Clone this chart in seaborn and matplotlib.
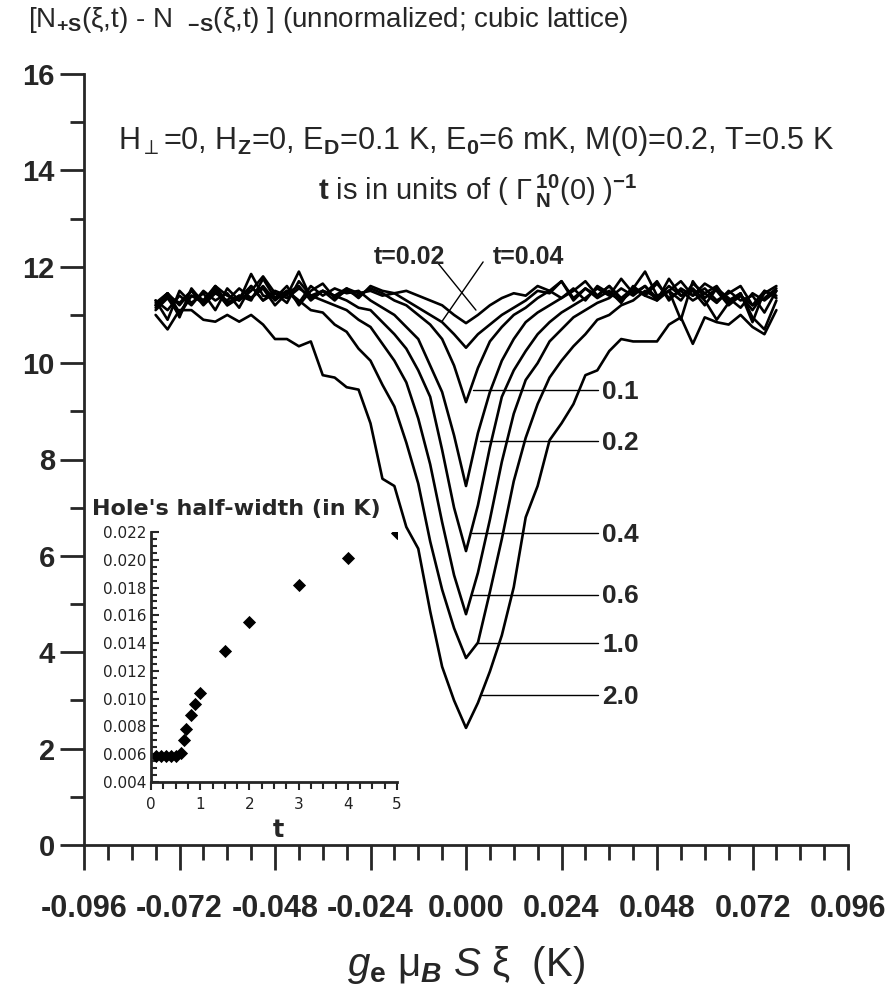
import matplotlib
matplotlib.use("Agg")
import matplotlib.pyplot as plt
from matplotlib.ticker import MultipleLocator, FixedLocator, FormatStrFormatter
import numpy as np
import pandas as pd
import seaborn as sns

# ---------------- data ----------------
xi = [-0.078, -0.075, -0.072, -0.069, -0.066, -0.063, -0.060, -0.057, -0.054, -0.051,
      -0.048, -0.045, -0.042, -0.039, -0.036, -0.033, -0.030, -0.027, -0.024, -0.021,
      -0.018, -0.015, -0.012, -0.009, -0.006, -0.003, 0.000, 0.003, 0.006, 0.009,
      0.012, 0.015, 0.018, 0.021, 0.024, 0.027, 0.030, 0.033, 0.036, 0.039,
      0.042, 0.045, 0.048, 0.051, 0.054, 0.057, 0.060, 0.063, 0.066, 0.069,
      0.072, 0.075, 0.078]

curve_t002 = [11.25, 11.45, 11.2, 11.5, 11.3, 11.6, 11.25, 11.4, 11.35, 11.55, 11.2, 11.45,
              11.6, 11.3, 11.5, 11.4, 11.55, 11.45, 11.5, 11.4, 11.45, 11.5, 11.4,
              11.3, 11.2, 11.0, 10.83, 11.0, 11.2, 11.35,
              11.45, 11.4, 11.6, 11.5, 11.35, 11.55, 11.3, 11.6, 11.45, 11.3, 11.55, 11.4,
              11.65, 11.35, 11.5, 11.3, 11.45, 11.6, 11.25, 11.4, 11.2, 11.5, 11.35]
curve_t004 = [11.1, 11.35, 11.0, 11.4, 11.25, 11.5, 11.2, 11.35, 11.6, 11.3, 11.45, 11.25,
              11.7, 11.4, 11.5, 11.3, 11.55, 11.35, 11.6, 11.5, 11.45,
              11.3, 11.15, 11.0, 10.85, 10.6, 10.32, 10.6, 10.8, 11.0, 11.15, 11.3,
              11.5, 11.45, 11.7, 11.3, 11.55, 11.35, 11.5, 11.25, 11.6, 11.4, 11.3, 11.75,
              11.4, 11.5, 11.2, 11.55, 11.35, 11.15, 11.45, 11.3, 11.5]
curve_t01 = [11.3, 10.9, 11.5, 11.25, 11.45, 11.1, 11.55, 11.3, 11.85, 11.4, 11.35, 11.6,
             11.2, 11.5, 11.65, 11.35, 11.5, 11.4, 11.55, 11.45,
             11.3, 11.2, 11.0, 10.8, 10.5, 9.95, 9.19, 9.9, 10.45, 10.75, 11.0, 11.15, 11.35,
             11.5, 11.7, 11.35, 11.55, 11.4, 11.6, 11.3, 11.5, 11.45, 11.7, 11.3, 11.55,
             11.4, 11.65, 11.5, 11.2, 11.4, 11.1, 11.45, 11.6]
curve_t02 = [11.2, 11.45, 11.05, 11.4, 11.3, 11.55, 11.2, 11.4, 11.3, 11.75, 11.35, 11.5,
             11.25, 11.6, 11.4, 11.55, 11.45, 11.5,
             11.3, 11.15, 11.0, 10.75, 10.5, 9.95, 9.4, 8.5, 7.45, 8.55, 9.4, 10.05, 10.5,
             10.85, 11.05, 11.2, 11.35,
             11.5, 11.7, 11.4, 11.6, 11.35, 11.55, 11.9, 11.4, 11.5, 11.3, 11.65, 11.45,
             11.25, 11.5, 11.3, 11.4, 11.05, 11.5]
curve_t04 = [11.3, 11.1, 11.4, 11.2, 11.5, 11.3, 11.45, 11.15, 11.6, 11.3, 11.5, 11.4,
             11.9, 11.35, 11.5, 11.4,
             11.3, 11.15, 11.1, 10.85, 10.6, 10.3, 9.85, 9.3, 8.2, 7.0, 6.1, 7.05, 8.25,
             9.3, 9.85, 10.25, 10.6, 10.85, 11.05, 11.2, 11.35,
             11.55, 11.4, 11.75, 11.45, 11.6, 11.35, 11.5, 11.7, 11.4, 11.55, 11.3, 11.45,
             11.6, 11.2, 11.35, 11.55]
curve_t06 = [11.2, 11.45, 10.95, 11.55, 11.25, 11.6, 11.4, 11.3, 11.5, 11.8, 11.45, 11.35,
             11.55, 11.4,
             11.3, 11.2, 11.1, 10.9, 10.75, 10.4, 10.05, 9.6, 8.85, 7.9, 6.7, 5.6, 4.79,
             5.65, 6.75, 7.95, 8.95, 9.65, 10.0, 10.45, 10.7, 10.95, 11.1, 11.25, 11.35,
             11.55, 11.4, 11.6, 11.3, 11.5, 10.9, 11.7, 11.35, 11.55, 11.3, 11.45, 10.95,
             10.7, 11.3]
curve_t10 = [11.15, 11.4, 11.25, 11.5, 11.2, 11.45, 11.3, 11.55, 11.35, 11.6, 11.3, 11.5,
             11.3, 11.1, 11.05, 10.8, 10.65, 10.3, 10.05, 9.55, 9.1, 8.35, 7.5, 6.3, 5.3,
             4.5, 3.88, 4.2, 5.25, 6.35, 7.55, 8.45, 9.15, 9.7, 10.05, 10.35, 10.6, 10.9,
             11.0, 11.2, 11.3,
             11.5, 11.35, 11.6, 11.4, 11.55, 11.3, 10.9, 11.25, 11.45, 10.85, 11.5, 11.4]
curve_t20 = [11.0, 10.7, 11.1, 11.1, 10.9, 10.86, 11.0, 10.86, 11.0, 10.8,
             10.5, 10.5, 10.35, 10.45, 9.75, 9.7, 9.5, 9.45, 8.75, 7.6,
             7.45, 6.6, 6.15, 4.85, 3.7, 3.0, 2.43, 2.95, 3.6, 4.35,
             5.35, 6.8, 7.45, 8.4, 8.75, 9.15, 9.75, 9.85, 10.25, 10.5,
             10.45, 10.45, 10.45, 10.8, 10.95, 10.4, 10.95, 10.85, 10.8, 11.0,
             10.75, 10.6, 11.1]

t_names = ["0.02", "0.04", "0.1", "0.2", "0.4", "0.6", "1.0", "2.0"]
curves = [curve_t002, curve_t004, curve_t01, curve_t02, curve_t04, curve_t06, curve_t10, curve_t20]

# curve labels: text, leader start x, level
label_text = ["0.1", "0.2", "0.4", "0.6", "1.0", "2.0"]
leader_x0 = [0.0018, 0.0035, 0.0015, 0.0015, 0.0028, 0.0040]
leader_y = [9.44, 8.38, 6.47, 5.19, 4.19, 3.11]

# inset: hole half-width vs t
inset_t = [0.1, 0.2, 0.3, 0.4, 0.5, 0.6, 0.67, 0.71, 0.81, 0.9, 1.0, 1.5, 2.0, 3.0, 4.0, 5.0]
inset_w = [0.0059, 0.0059, 0.0059, 0.0059, 0.0059, 0.0061, 0.0070, 0.0078, 0.0088,
           0.0096, 0.0104, 0.0134, 0.0155, 0.0182, 0.0201, 0.0219]

x_major = [-0.096, -0.072, -0.048, -0.024, 0.0, 0.024, 0.048, 0.072, 0.096]

rows = []
for name, vals in zip(t_names, curves):
    assert len(vals) == len(xi)
    for x, v in zip(xi, vals):
        rows.append({"xi": x, "N": v, "t": name})
df = pd.DataFrame(rows)
df_in = pd.DataFrame({"t": inset_t, "w": inset_w})

# ---------------- style ----------------
sns.set_style("ticks")
plt.rcParams["font.family"] = ["Liberation Sans", "DejaVu Sans"]
plt.rcParams["mathtext.fontset"] = "custom"
plt.rcParams["mathtext.rm"] = "Liberation Sans"
plt.rcParams["mathtext.it"] = "Liberation Sans:italic"
plt.rcParams["mathtext.bf"] = "Liberation Sans:bold"
plt.rcParams["mathtext.bfit"] = "Liberation Sans:italic:bold"

W, H = 890, 990
fig = plt.figure(figsize=(8.9, 9.9), dpi=100)
fig.patch.set_facecolor("white")

def fx(px):
    return px / W

def fy(py):
    return 1 - py / H

ax = fig.add_axes([fx(84), fy(845), fx(848) - fx(84), fy(74) - fy(845)])
ax.set_facecolor("none")
sns.lineplot(data=df, x="xi", y="N", hue="t", hue_order=t_names,
             palette=["black"] * len(t_names), estimator=None, sort=False,
             legend=False, linewidth=1.9, ax=ax)

ax.set_xlim(-0.096, 0.096)
ax.set_ylim(0, 16)
ax.xaxis.set_major_locator(FixedLocator(x_major))
ax.xaxis.set_major_formatter(FormatStrFormatter("%.3f"))
ax.xaxis.set_minor_locator(MultipleLocator(0.006))
ax.yaxis.set_major_locator(MultipleLocator(2))
ax.yaxis.set_minor_locator(MultipleLocator(1))
ax.yaxis.set_major_formatter(FormatStrFormatter("%d"))
for s in ["top", "right"]:
    ax.spines[s].set_visible(False)
for s in ["left", "bottom"]:
    ax.spines[s].set_linewidth(2)
ax.tick_params(axis="x", which="major", direction="out", length=18, width=2, pad=17,
               labelsize=22)
ax.tick_params(axis="x", which="minor", direction="out", length=11, width=2)
ax.tick_params(axis="y", which="major", direction="out", length=17, width=2, pad=4,
               labelsize=21)
ax.tick_params(axis="y", which="minor", direction="out", length=10, width=2)
for lab in ax.get_xticklabels() + ax.get_yticklabels():
    lab.set_fontweight("bold")
ax.set_xlabel("")
ax.set_ylabel("")

# curve labels with leaders
for txt, x0, yv in zip(label_text, leader_x0, leader_y):
    ax.plot([x0, 0.0332], [yv, yv], color="black", lw=1.0)
    ax.text(0.0342, yv - 0.03, txt, fontsize=19, fontweight="bold",
            ha="left", va="center")

ax.plot([-0.0073, 0.0025], [12.1, 11.1], color="black", lw=1.0)
ax.plot([0.0043, -0.006], [12.1, 10.87], color="black", lw=1.0)
ax.text(-0.0141, 12.2, "t=0.02", fontsize=18, fontweight="bold", ha="center", va="center")
ax.text(0.0158, 12.2, "t=0.04", fontsize=18, fontweight="bold", ha="center", va="center")

# texts
fig.text(fx(28), fy(27), r"[N$_{\mathbf{+S}}$(ξ,t) - N  $_{\mathbf{-S}}$(ξ,t) ] (unnormalized; cubic lattice)",
         fontsize=20, ha="left", va="baseline")
fig.text(fx(476), fy(149),
         r"H$_{\perp}$=0, H$_{\mathbf{Z}}$=0, E$_{\mathbf{D}}$=0.1 K, E$_{\mathbf{0}}$=6 mK, M(0)=0.2, T=0.5 K",
         fontsize=22, ha="center", va="baseline")
fig.text(fx(478), fy(200),
         r"$\mathbf{t}$ is in units of ( $\Gamma\,^{\mathbf{10}}_{\mathbf{N}}$(0) )$^{\mathbf{-1}}$",
         fontsize=21, ha="center", va="baseline")
fig.text(fx(466), fy(965), r"$g_{\mathbf{e}}$ μ$_{\mathbfit{B}}$ $S$ ξ  (K)",
         fontsize=29, ha="center", va="center")

# inset
axi = fig.add_axes([fx(151), fy(782), fx(397) - fx(151), fy(532) - fy(782)])
axi.set_facecolor("none")
sns.scatterplot(data=df_in, x="t", y="w", marker="D", s=45, color="black",
                edgecolor="black", linewidth=0, ax=axi)
axi.set_xlim(0, 5)
axi.set_ylim(0.004, 0.022)
axi.xaxis.set_major_locator(MultipleLocator(1))
axi.xaxis.set_minor_locator(MultipleLocator(0.25))
axi.yaxis.set_major_locator(MultipleLocator(0.002))
axi.yaxis.set_minor_locator(MultipleLocator(0.0005))
axi.yaxis.set_major_formatter(FormatStrFormatter("%.3f"))
for s in ["top", "right"]:
    axi.spines[s].set_visible(False)
for s in ["left", "bottom"]:
    axi.spines[s].set_linewidth(2)
axi.tick_params(axis="x", which="major", direction="out", length=6, width=1.5, pad=5,
                labelsize=11, labelcolor="#222222")
axi.tick_params(axis="x", which="minor", direction="out", length=5, width=1.5)
axi.tick_params(axis="y", which="major", direction="in", length=6, width=1.5, pad=3,
                labelsize=11, labelcolor="#222222")
axi.tick_params(axis="y", which="minor", direction="in", length=4, width=1.5)
for lab in axi.get_xticklabels() + axi.get_yticklabels():
    lab.set_family("DejaVu Sans")
axi.set_xlabel("")
axi.set_ylabel("")
fig.text(fx(92), fy(515), "Hole's half-width (in K)", fontsize=16, fontweight="bold",
         family="DejaVu Sans", ha="left", va="baseline")
fig.text(fx(278), fy(830), "t", fontsize=17, fontweight="bold", family="DejaVu Sans",
         ha="center", va="center")

fig.savefig("out.png", dpi=100, facecolor="white")
